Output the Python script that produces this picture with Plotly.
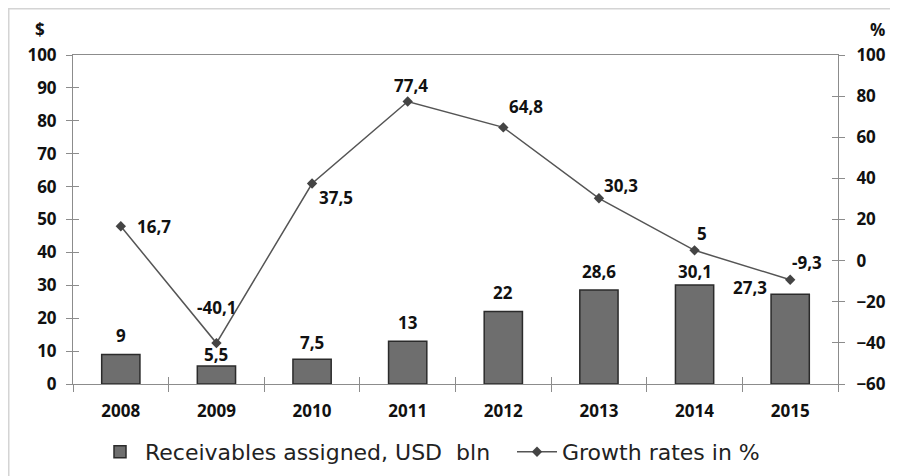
import plotly.graph_objects as go

years = ["2008", "2009", "2010", "2011", "2012", "2013", "2014", "2015"]
receivables = [9, 5.5, 7.5, 13, 22, 28.6, 30.1, 27.3]
growth = [16.7, -40.1, 37.5, 77.4, 64.8, 30.3, 5, -9.3]
left_ticks = [0, 10, 20, 30, 40, 50, 60, 70, 80, 90, 100]
right_ticks = [-60, -40, -20, 0, 20, 40, 60, 80, 100]

# label offsets (pixels) - styling only
bar_lbl_dx = [0, 0, 0, 0, 0, 0, 0, -40]
bar_lbl_dy = [19, 11, 17, 19, 19, 18, 13, 7]
line_lbl_dx = [33, 0, 24, 3, 23, 22, 7, 17]
line_lbl_dy = [0, 36, -14, 16, 21, 13, 17, 17]

OFF = 8  # page body margin
W, H = 898 - OFF, 476 - OFF
L, R, T, B = 73 - OFF, 60, 55 - OFF, 92
pw, ph = W - L - R, H - T - B

def fmt(v):
    return ("%g" % v).replace(".", ",")

font_b = dict(family="Open Sans", size=17, color="#111111", weight="bold")
axis_col = "#8c8c8c"
leg_font = dict(family="DejaVu Sans", size=22, color="#222222")

fig = go.Figure()
fig.add_trace(go.Bar(
    x=years, y=receivables, name="Receivables assigned, USD  bln",
    marker=dict(color="#6e6e6e", line=dict(color="#2b2b2b", width=1.5)),
    yaxis="y", xaxis="x", legend="legend",
))
fig.add_trace(go.Scatter(
    x=years, y=growth, name="Growth rates in %", mode="lines+markers",
    line=dict(color="#555555", width=1.5),
    marker=dict(symbol="diamond", size=8, color="#444444"),
    yaxis="y2", xaxis="x", legend="legend2",
))

annotations = []
for i, v in enumerate(receivables):
    annotations.append(dict(x=i, y=v, xref="x", yref="y", text=fmt(v), showarrow=False,
                            xshift=bar_lbl_dx[i], yshift=bar_lbl_dy[i], font=font_b,
                            xanchor="center", yanchor="middle"))
for i, v in enumerate(growth):
    annotations.append(dict(x=i, y=v, xref="x", yref="y2", text=fmt(v), showarrow=False,
                            xshift=line_lbl_dx[i], yshift=line_lbl_dy[i], font=font_b,
                            xanchor="center", yanchor="middle"))

def px2x(px):  # page px -> paper x
    return (px - OFF - L) / pw

def py2y(py):  # page px -> paper y
    return (H - B - (py - OFF)) / ph

annotations.append(dict(x=px2x(40), y=py2y(30), xref="paper", yref="paper", xanchor="center",
                        yanchor="middle", text="$", showarrow=False, font=font_b))
annotations.append(dict(x=px2x(877), y=py2y(30), xref="paper", yref="paper", xanchor="center",
                        yanchor="middle", text="%", showarrow=False, font=font_b))

shapes = [
    dict(type="line", xref="paper", yref="paper", x0=px2x(7), x1=px2x(905), y0=py2y(8), y1=py2y(8),
         line=dict(color="#d4d4d4", width=3)),
    dict(type="line", xref="paper", yref="paper", x0=px2x(8), x1=px2x(8), y0=py2y(8), y1=py2y(480),
         line=dict(color="#d4d4d4", width=3)),
]

fig.update_layout(
    width=W, height=H,
    margin=dict(l=L, r=R, t=T, b=B, autoexpand=False),
    paper_bgcolor="white", plot_bgcolor="white",
    bargap=0.6,
    showlegend=True,
    legend=dict(orientation="h", x=px2x(95), y=py2y(452), xanchor="left", yanchor="middle",
                font=leg_font, itemwidth=40),
    legend2=dict(orientation="h", x=px2x(512), y=py2y(452), xanchor="left", yanchor="middle",
                 font=leg_font, itemwidth=40),
    xaxis=dict(type="category", categoryorder="array", categoryarray=years, range=[-0.5, 7.5],
               showline=True, linecolor=axis_col, linewidth=1, mirror=True,
               ticks="outside", tickson="boundaries", ticklen=7, tickcolor=axis_col,
               tickfont=font_b, ticklabelstandoff=12, showgrid=False, zeroline=False),
    xaxis2=dict(type="category", categoryorder="array", categoryarray=years, range=[-0.5, 7.5],
                overlaying="x", anchor="y", side="bottom", showline=False,
                ticks="inside", tickson="boundaries", ticklen=7, tickcolor=axis_col,
                showticklabels=False, showgrid=False, zeroline=False),
    yaxis=dict(range=[0, 100], tickvals=left_ticks, showline=True, linecolor=axis_col, linewidth=1,
               ticks="outside", ticklen=6, tickcolor=axis_col, tickfont=font_b,
               ticklabelstandoff=6, showgrid=False, zeroline=False),
    yaxis2=dict(range=[-60, 100], tickvals=right_ticks, overlaying="y", side="right",
                showline=True, linecolor=axis_col, linewidth=1,
                ticks="outside", ticklen=6, tickcolor=axis_col, tickfont=font_b,
                ticklabelstandoff=8, showgrid=False, zeroline=False),
    yaxis3=dict(range=[0, 100], tickvals=left_ticks, overlaying="y", side="left", anchor="x",
                showline=False, ticks="inside", ticklen=6, tickcolor=axis_col,
                showticklabels=False, showgrid=False, zeroline=False),
    yaxis4=dict(range=[-60, 100], tickvals=right_ticks, overlaying="y", side="right", anchor="x",
                showline=False, ticks="inside", ticklen=6, tickcolor=axis_col,
                showticklabels=False, showgrid=False, zeroline=False),
    annotations=annotations,
    shapes=shapes,
)

# invisible helper traces so the overlay tick axes render
fig.add_trace(go.Scatter(x=years, y=[None] * len(years), xaxis="x2", yaxis="y3",
                         showlegend=False, hoverinfo="skip", mode="lines"))
fig.add_trace(go.Scatter(x=years, y=[None] * len(years), xaxis="x2", yaxis="y4",
                         showlegend=False, hoverinfo="skip", mode="lines"))

fig.write_html("out.html")
